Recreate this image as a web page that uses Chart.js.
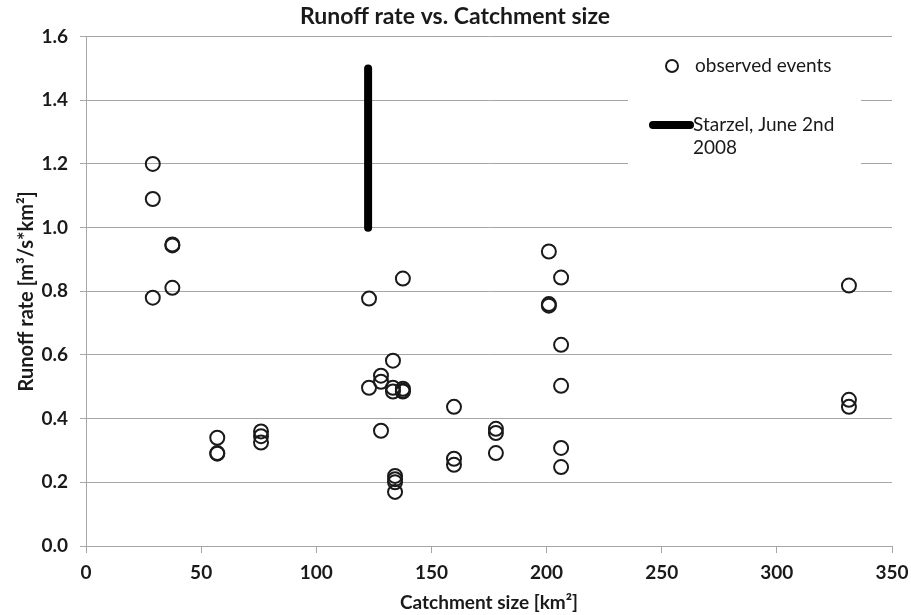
<!DOCTYPE html>
<html>
<head>
<meta charset="utf-8">
<script src="https://cdn.jsdelivr.net/npm/chart.js@4.4.0/dist/chart.umd.min.js"></script>
<style>
  html, body { margin: 0; padding: 0; background: #fff; }
  #wrap { width: 911px; height: 615px; }
</style>
</head>
<body>
<div id="wrap"><canvas id="runoffChart" width="911" height="615"></canvas></div>
<script>
// observed events: catchment size [km²] and runoff rate [m³/s*km²]
const catchmentSize = [
  29, 29, 29, 37.5, 37.5, 37.5, 57, 57, 57, 76, 76, 76,
  122.9, 122.9, 128.1, 128.1, 128.1, 133.3, 133.3, 133.3,
  137.6, 137.6, 137.6, 137.6, 134.2, 134.2, 134.2, 134.2,
  159.8, 159.8, 159.8, 178, 178, 178, 201, 201, 201,
  206.3, 206.3, 206.3, 206.3, 206.3, 331.3, 331.3, 331.3
];
const runoffRate = [
  1.20, 1.09, 0.78, 0.947, 0.944, 0.811, 0.34, 0.292, 0.29, 0.36, 0.345, 0.325,
  0.777, 0.497, 0.535, 0.516, 0.362, 0.582, 0.497, 0.485,
  0.84, 0.494, 0.488, 0.485, 0.22, 0.21, 0.2, 0.17,
  0.437, 0.274, 0.255, 0.368, 0.355, 0.292, 0.925, 0.76, 0.755,
  0.843, 0.632, 0.503, 0.308, 0.248, 0.818, 0.459, 0.437
];

// Starzel event, June 2nd 2008 (range)
const starzelSize = [122.5, 122.5];
const starzelRate = [1.0, 1.5];

const xTicks = [0, 50, 100, 150, 200, 250, 300, 350];
const yTicks = [0.0, 0.2, 0.4, 0.6, 0.8, 1.0, 1.2, 1.4, 1.6];

const fontFam = "Lato, 'Open Sans', sans-serif";
const gridGray = '#a6a6a6';
const textCol = '#1a1a1a';

// legend drawn into the plot area like the original
const legendBox = {
  id: 'legendBox',
  afterDatasetsDraw(chart) {
    const ctx = chart.ctx;
    ctx.save();
    ctx.fillStyle = '#fff';
    ctx.fillRect(628, 46, 233, 124);

    ctx.strokeStyle = '#1a1a1a';
    ctx.lineWidth = 2;
    ctx.beginPath();
    ctx.arc(672, 66, 6, 0, Math.PI * 2);
    ctx.stroke();

    ctx.lineCap = 'round';
    ctx.lineWidth = 8;
    ctx.strokeStyle = '#000';
    ctx.beginPath();
    ctx.moveTo(653, 125);
    ctx.lineTo(690, 125);
    ctx.stroke();

    ctx.fillStyle = textCol;
    ctx.font = '19px ' + fontFam;
    ctx.textBaseline = 'middle';
    ctx.textAlign = 'left';
    ctx.fillText('observed events', 695, 66);
    ctx.fillText('Starzel, June 2nd', 693, 125);
    ctx.fillText('2008', 693, 148);
    ctx.restore();
  }
};

const points = catchmentSize.map((x, i) => ({ x: x, y: runoffRate[i] }));
const starzel = starzelSize.map((x, i) => ({ x: x, y: starzelRate[i] }));

new Chart(document.getElementById('runoffChart'), {
  type: 'scatter',
  data: {
    datasets: [{
      label: 'Starzel, June 2nd 2008',
      type: 'line',
      data: starzel,
      borderColor: '#000',
      borderWidth: 8,
      borderCapStyle: 'round',
      pointRadius: 0,
      showLine: true
    }, {
      label: 'observed events',
      data: points,
      pointStyle: 'circle',
      pointRadius: 7,
      pointBorderWidth: 2,
      pointBorderColor: '#1a1a1a',
      pointBackgroundColor: 'rgba(0,0,0,0)'
    }]
  },
  options: {
    responsive: false,
    animation: false,
    layout: { padding: { left: 9, right: 10, top: 0, bottom: 0 } },
    plugins: {
      legend: { display: false },
      tooltip: { enabled: false },
      title: {
        display: true,
        text: 'Runoff rate vs. Catchment size',
        color: textCol,
        font: { family: fontFam, size: 23, weight: 'bold' },
        padding: { top: 3, bottom: 6 }
      }
    },
    scales: {
      x: {
        type: 'linear',
        min: 0,
        max: 350,
        afterBuildTicks: (scale) => { scale.ticks = xTicks.map(v => ({ value: v })); },
        afterFit: (scale) => {
          scale.height = 69;
          scale.paddingLeft = 0;
          scale.paddingRight = 19;
        },
        ticks: {
          color: textCol,
          font: { family: fontFam, size: 19, weight: 'bold' },
          padding: 8,
          maxRotation: 0
        },
        grid: { drawOnChartArea: false, drawTicks: true, tickLength: 7, color: gridGray },
        border: { display: true, color: gridGray },
        title: {
          display: true,
          text: 'Catchment size [km²]',
          color: textCol,
          font: { family: fontFam, size: 19, weight: 'bold' },
          padding: { top: 4, bottom: 1 }
        }
      },
      y: {
        min: 0,
        max: 1.6,
        afterBuildTicks: (scale) => { scale.ticks = yTicks.map(v => ({ value: v })); },
        afterFit: (scale) => { scale.width = 77; },
        ticks: {
          color: textCol,
          font: { family: fontFam, size: 19, weight: 'bold' },
          padding: 12,
          callback: (v) => v.toFixed(1)
        },
        grid: { color: gridGray, lineWidth: 1, tickLength: 6 },
        border: { display: true, color: gridGray },
        title: {
          display: true,
          text: 'Runoff rate [m³/s*km²]',
          color: textCol,
          font: { family: fontFam, size: 20, weight: 'bold' },
          padding: { top: 6, bottom: 0 }
        }
      }
    }
  },
  plugins: [legendBox]
});
</script>
</body>
</html>
